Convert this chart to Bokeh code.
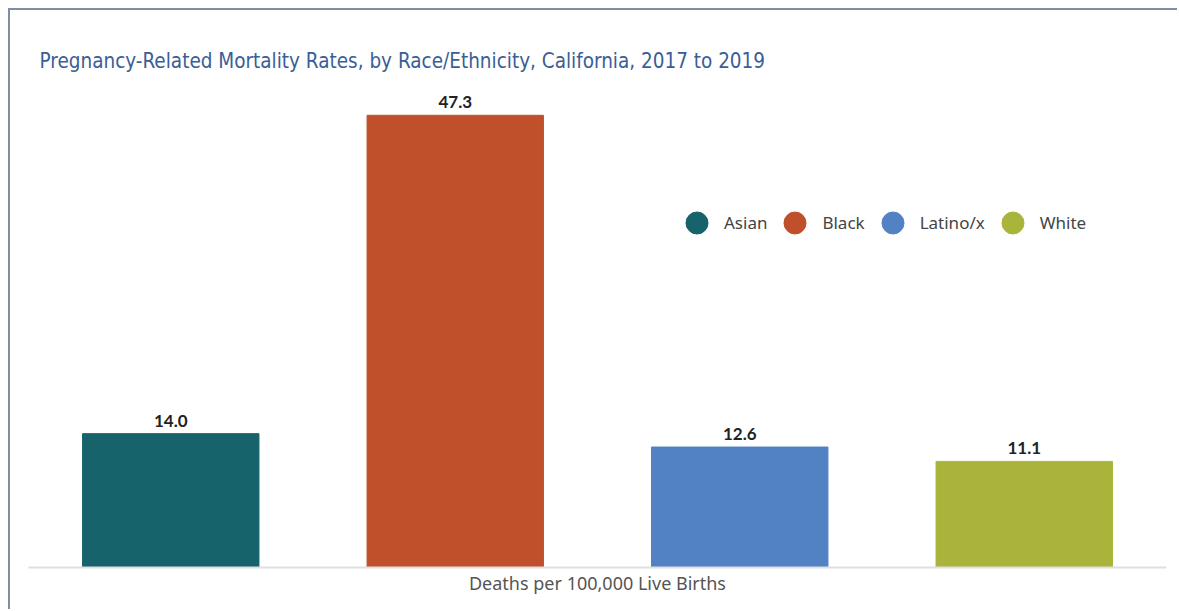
from bokeh.plotting import figure
from bokeh.models import ColumnDataSource, Legend, LegendItem, Range1d, FactorRange, FixedTicker
from bokeh.core.properties import value
from bokeh.embed import file_html
from bokeh.resources import INLINE

categories = ["Asian", "Black", "Latino/x", "White"]
rates = [14.0, 47.3, 12.6, 11.1]
labels = ["14.0", "47.3", "12.6", "11.1"]
colors = ["#17636b", "#c0502b", "#5282c4", "#a9b53a"]

src = ColumnDataSource(dict(cat=categories, rate=rates, label=labels, color=colors))

p = figure(width=1169, height=601, output_backend="svg", toolbar_location=None,
           x_range=FactorRange(*categories, range_padding=0), y_range=Range1d(0, 50.94),
           y_axis_location=None, min_border_left=18, min_border_right=13,
           min_border_top=70, min_border_bottom=44,
           title="Pregnancy-Related Mortality Rates, by Race/Ethnicity, California, 2017 to 2019")
p.styles = {"margin-left": "8px", "margin-top": "8px",
            "border-left": "2px solid #7f8ea3", "border-top": "2px solid #7f8ea3"}
p.title.text_font = "Noto Sans Condensed, DejaVu Sans Condensed, sans-serif"
p.title.text_font_size = "20.5px"
p.title.text_font_style = "normal"
p.title.text_color = "#3a5e96"
p.title.offset = 11
p.title.standoff = 16
p.outline_line_color = None
p.grid.grid_line_color = None
p.background_fill_color = "white"
p.border_fill_color = "white"

p.vbar(x="cat", top="rate", width=0.62, color="color", source=src)
p.text(x="cat", y="rate", text="label", source=src, y_offset=-7,
       text_align="center", text_baseline="bottom",
       text_font=value("Lato"), text_font_style="bold", text_font_size="17px",
       text_color="#222222")

xa = p.xaxis[0]
xa.ticker = FixedTicker(ticks=[])
xa.axis_label = "Deaths per 100,000 Live Births"
xa.axis_label_text_font = "Noto Sans"
xa.axis_label_text_font_style = "normal"
xa.axis_label_text_font_size = "18px"
xa.axis_label_text_color = "#555555"
xa.axis_label_standoff = 3
xa.major_label_standoff = 0
xa.major_tick_line_color = None
xa.minor_tick_line_color = None
xa.axis_line_color = "#e0e0e0"
xa.axis_line_width = 2

items = []
for c, col in zip(categories, colors):
    r = p.scatter(x=[categories[0]], y=[0], size=22, color=col, visible=False)
    items.append(LegendItem(label=c, renderers=[r]))
leg = Legend(items=items, orientation="horizontal", location=(641, 317),
             glyph_width=55, glyph_height=55, label_standoff=-5, spacing=-1,
             padding=0, margin=0, border_line_color=None, background_fill_alpha=0,
             label_text_font="Noto Sans", label_text_font_size="17px",
             label_text_color="#444444")
p.add_layout(leg, "center")

open("out.html", "w").write(file_html(p, INLINE))
